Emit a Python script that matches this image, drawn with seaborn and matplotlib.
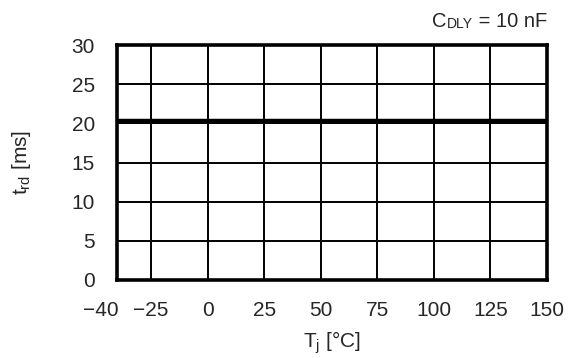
import numpy as np
import pandas as pd
import seaborn as sns
import matplotlib
matplotlib.use("Agg")
import matplotlib.pyplot as plt
from matplotlib.transforms import ScaledTranslation, offset_copy

# data
tj = [-40, -25, 0, 25, 50, 75, 100, 125, 150]
trd = [20.3, 20.3, 20.3, 20.3, 20.3, 20.3, 20.3, 20.3, 20.3]
x_ticks = [-40, -25, 0, 25, 50, 75, 100, 125, 150]
y_ticks = [0, 5, 10, 15, 20, 25, 30]

df = pd.DataFrame({"Tj": tj, "trd": trd})

sns.set_style("white")
plt.rcParams['font.family'] = ['Liberation Sans', 'DejaVu Sans']
plt.rcParams['mathtext.fontset'] = 'custom'
plt.rcParams['mathtext.rm'] = 'Liberation Sans'
plt.rcParams['mathtext.it'] = 'Liberation Sans'

fig = plt.figure(figsize=(5.68, 3.58), dpi=100)
ax = fig.add_axes([0.206, 0.218, 0.757, 0.656])

sns.lineplot(data=df, x="Tj", y="trd", ax=ax, color="black", linewidth=3.2, zorder=3)

ax.set_xlim(-40, 150)
ax.set_ylim(0, 30)
ax.set_xticks(x_ticks)
ax.set_yticks(y_ticks)
ax.grid(True, color="black", linewidth=1.4)
ax.tick_params(axis="x", length=0, labelsize=15, pad=15)
ax.tick_params(axis="y", length=0, labelsize=15, pad=16)
for s in ax.spines.values():
    s.set_color("black")
    s.set_linewidth(2.6)

# the -40 label sits a bit left of its tick in the reference
lab0 = ax.xaxis.get_major_ticks()[0].label1
lab0.set_transform(lab0.get_transform() + ScaledTranslation(-0.16, 0, fig.dpi_scale_trans))

ax.set_xlabel(r"T$_\mathrm{j}$ [°C]", fontsize=15, labelpad=7)
ax.set_ylabel(r"t$_\mathrm{rd}$ [ms]", fontsize=15, labelpad=28)

# title C_DLY = 10 nF, subscript on the baseline, built right to left
r = fig.canvas.get_renderer()
t3 = ax.text(1.0, 1.0, " = 10 nF", fontsize=14.5, ha="right", va="baseline",
             transform=offset_copy(ax.transAxes, fig=fig, x=0, y=18, units="dots"))
w3 = t3.get_window_extent(r).width
t2 = ax.text(1.0, 1.0, "DLY", fontsize=10, ha="right", va="baseline",
             transform=offset_copy(ax.transAxes, fig=fig, x=-w3, y=17, units="dots"))
w2 = t2.get_window_extent(r).width
ax.text(1.0, 1.0, "C", fontsize=14.5, ha="right", va="baseline",
        transform=offset_copy(ax.transAxes, fig=fig, x=-w3 - w2, y=18, units="dots"))

fig.savefig("out.png", dpi=100)
